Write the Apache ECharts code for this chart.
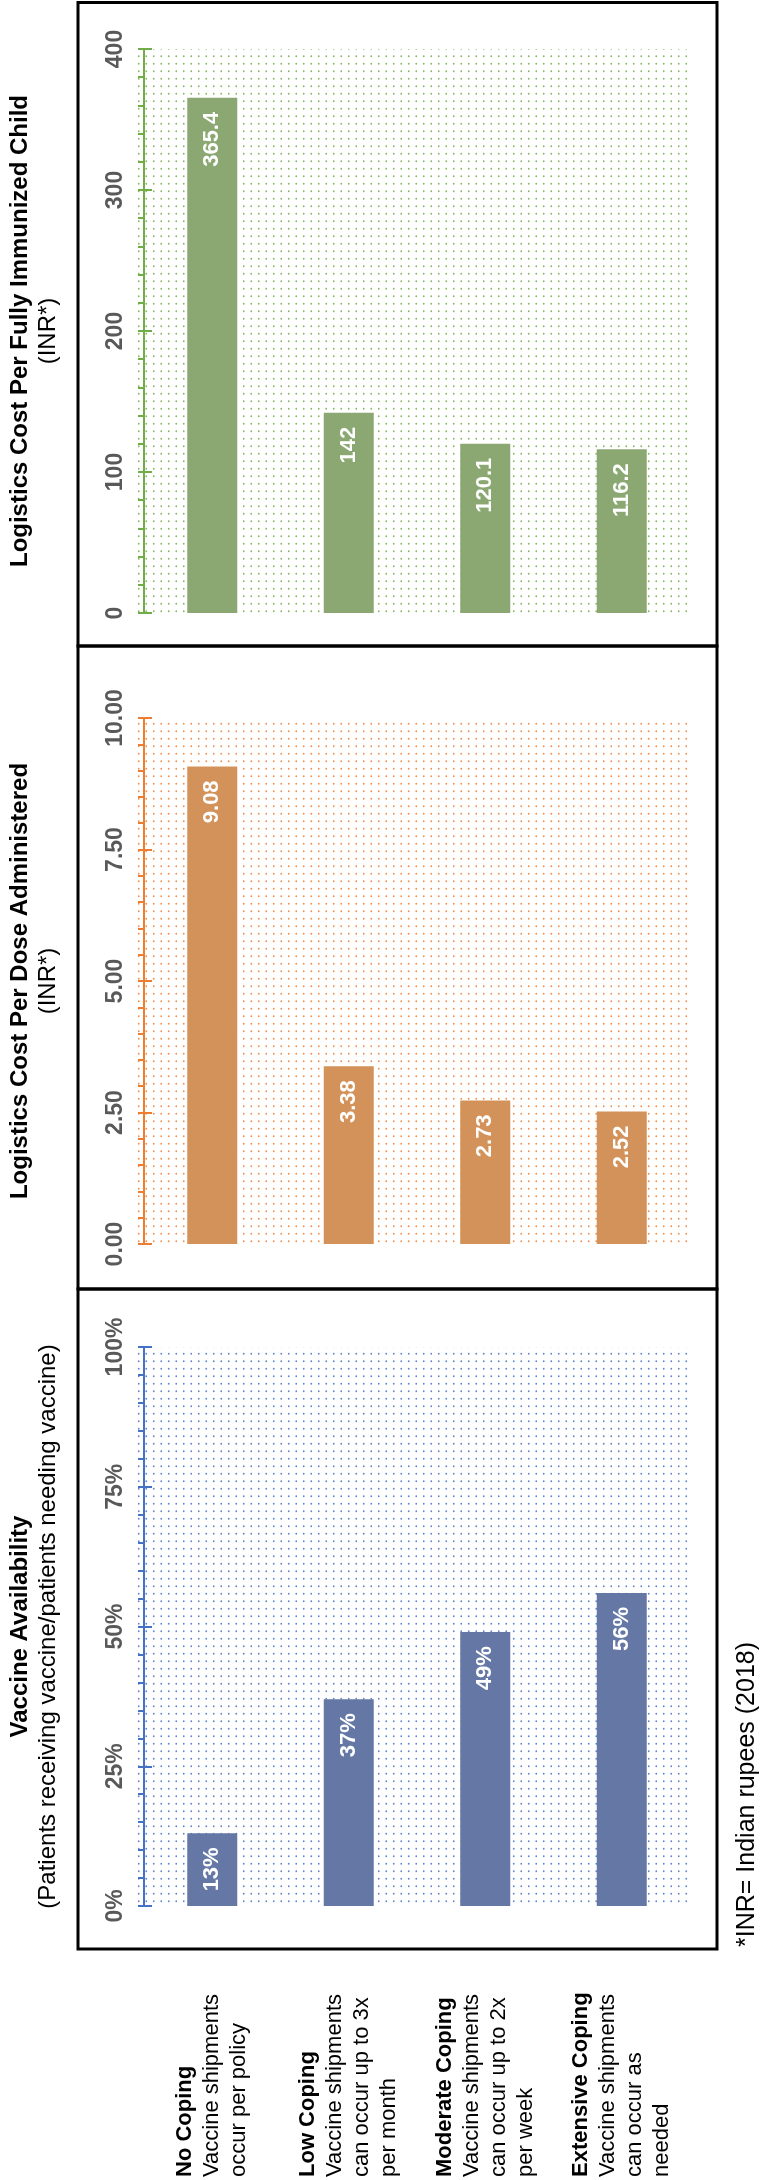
<!DOCTYPE html>
<html><head><meta charset="utf-8">
<script src="https://cdn.jsdelivr.net/npm/echarts@6/dist/echarts.min.js"></script>
<style>html,body{margin:0;padding:0;background:#fff}#c{width:762px;height:2180px}</style>
</head><body><div id="c"></div>
<script>
// ---- data ----
const categories = ['No Coping', 'Low Coping', 'Moderate Coping', 'Extensive Coping'];
const categoryNotes = [
  ['Vaccine shipments', 'occur per policy'],
  ['Vaccine shipments', 'can occur up to 3x', 'per month'],
  ['Vaccine shipments', 'can occur up to 2x', 'per week'],
  ['Vaccine shipments', 'can occur as', 'needed']
];
const costPerChild = [365.4, 142, 120.1, 116.2];
const costPerDose = [9.08, 3.38, 2.73, 2.52];
const availability = [13, 37, 49, 56];
const childAxis = [0, 400, 100];
const doseAxis = [0, 10, 2.5];
const availAxis = [0, 100, 25];
const panelTitles = [
  ['Logistics Cost Per Fully Immunized Child', '(INR*)'],
  ['Logistics Cost Per Dose Administered', '(INR*)'],
  ['Vaccine Availability', '(Patients receiving vaccine/patients needing vaccine)']
];
const footnote = '*INR= Indian rupees (2018)';

// ---- styling / layout ----
const FONT = "'Liberation Sans', Arial, Helvetica, sans-serif";
const PLOT_LEFT = 137, PLOT_W = 553;
const panels = [
  { top: 49, height: 564, box: [2.5, 646], axisColor: '#70AD47', barColor: '#8BA873', dot: 'rgba(112,173,71,0.85)',
    values: costPerChild, axis: childAxis, fmt: v => String(v), tick: v => String(v) },
  { top: 718, height: 526, box: [646, 1289], axisColor: '#ED7D31', barColor: '#D39259', dot: 'rgba(237,125,49,0.85)',
    values: costPerDose, axis: doseAxis, fmt: v => v.toFixed(2), tick: v => v.toFixed(2) },
  { top: 1347, height: 559, box: [1289, 1949], axisColor: '#4472C4', barColor: '#6577A5', dot: 'rgba(68,114,196,0.85)',
    values: availability, axis: availAxis, fmt: v => v + '%', tick: v => v + '%' }
];

function dotPattern(color) {
  const c = document.createElement('canvas');
  c.width = 15; c.height = 15;
  const ctx = c.getContext('2d');
  ctx.fillStyle = color;
  [[3.75, 3.75], [11.25, 3.75], [3.75, 11.25], [11.25, 11.25]].forEach(p => {
    ctx.beginPath(); ctx.arc(p[0], p[1], 0.9, 0, Math.PI * 2); ctx.fill();
  });
  return c;
}

const grid = [], xAxis = [], yAxis = [], series = [], graphic = [];
panels.forEach((p, i) => {
  grid.push({ left: PLOT_LEFT, width: PLOT_W, top: p.top, height: p.height });
  const last = i === panels.length - 1;
  xAxis.push({
    type: 'category', gridIndex: i, data: categories,
    axisLine: { show: false }, axisTick: { show: false }, splitLine: { show: false },
    axisLabel: last ? {
      show: true, interval: 0, rotate: 90, align: 'left', verticalAlign: 'middle', margin: 271,
      formatter: (val, idx) => ['{b|' + val + '}'].concat(categoryNotes[idx].map(t => '{n|' + t + '}')).join('\n'),
      rich: {
        b: { fontFamily: FONT, fontSize: 22, fontWeight: 'bold', color: '#000', lineHeight: 27 },
        n: { fontFamily: FONT, fontSize: 22, color: '#000', lineHeight: 27 }
      }
    } : { show: false }
  });
  const [mn, mx, iv] = p.axis;
  yAxis.push({
    type: 'value', gridIndex: i, position: 'left', min: mn, max: mx, interval: iv,
    axisLine: { show: true, lineStyle: { color: p.axisColor, width: 2 } },
    axisTick: { show: true, inside: false, length: 6, lineStyle: { color: p.axisColor, width: 2 } },
    minorTick: { show: true, splitNumber: 5, length: 6, lineStyle: { color: p.axisColor, width: 2 } },
    splitLine: { show: false },
    axisLabel: { show: true, rotate: 90, margin: 17, color: '#595959', fontFamily: FONT, fontSize: 23, fontWeight: 'bold', formatter: p.tick },
    name: '{t|' + panelTitles[i][0] + '}\n{s|' + panelTitles[i][1] + '}',
    nameLocation: 'middle', nameRotate: 90, nameGap: 82,
    nameTextStyle: {
      rich: {
        t: { fontFamily: FONT, fontSize: 24, fontWeight: 'bold', color: '#000', lineHeight: 28, align: 'center' },
        s: { fontFamily: FONT, fontSize: 24, color: '#000', lineHeight: 28, align: 'center' }
      }
    }
  });
  yAxis.push({
    type: 'value', gridIndex: i, position: 'left', min: mn, max: mx, interval: iv,
    axisLine: { show: false }, axisLabel: { show: false }, splitLine: { show: false },
    axisTick: { show: true, inside: true, length: 8, lineStyle: { color: p.axisColor, width: 2 } },
    minorTick: { show: false }
  });
  series.push({
    type: 'bar', xAxisIndex: i, yAxisIndex: 2 * i, data: p.values, barWidth: 50,
    itemStyle: { color: p.barColor },
    label: {
      show: true, position: 'insideTop', rotate: 90, align: 'right', verticalAlign: 'middle', distance: 14,
      color: '#fff', fontFamily: FONT, fontSize: 22, fontWeight: 'bold', formatter: d => p.fmt(d.value)
    }
  });
  graphic.push({
    type: 'rect', z: -1, silent: true,
    shape: { x: PLOT_LEFT, y: p.top, width: PLOT_W, height: p.height },
    style: { fill: { image: dotPattern(p.dot), repeat: 'repeat' } }
  });
  graphic.push({
    type: 'rect', z: 10, silent: true,
    shape: { x: 78, y: p.box[0], width: 717 - 78, height: p.box[1] - p.box[0] },
    style: { fill: 'none', stroke: '#000', lineWidth: 3 }
  });
});
graphic.push({
  type: 'text', x: 747, y: 1947, rotation: Math.PI / 2, silent: true,
  style: { text: footnote, fontFamily: FONT, fontSize: 25, fill: '#000', textAlign: 'left', textVerticalAlign: 'middle' }
});

const chart = echarts.init(document.getElementById('c'), null, { renderer: 'canvas' });
chart.setOption({
  animation: false,
  backgroundColor: '#fff',
  textStyle: { fontFamily: FONT },
  grid, xAxis, yAxis, series, graphic
});
</script></body></html>
